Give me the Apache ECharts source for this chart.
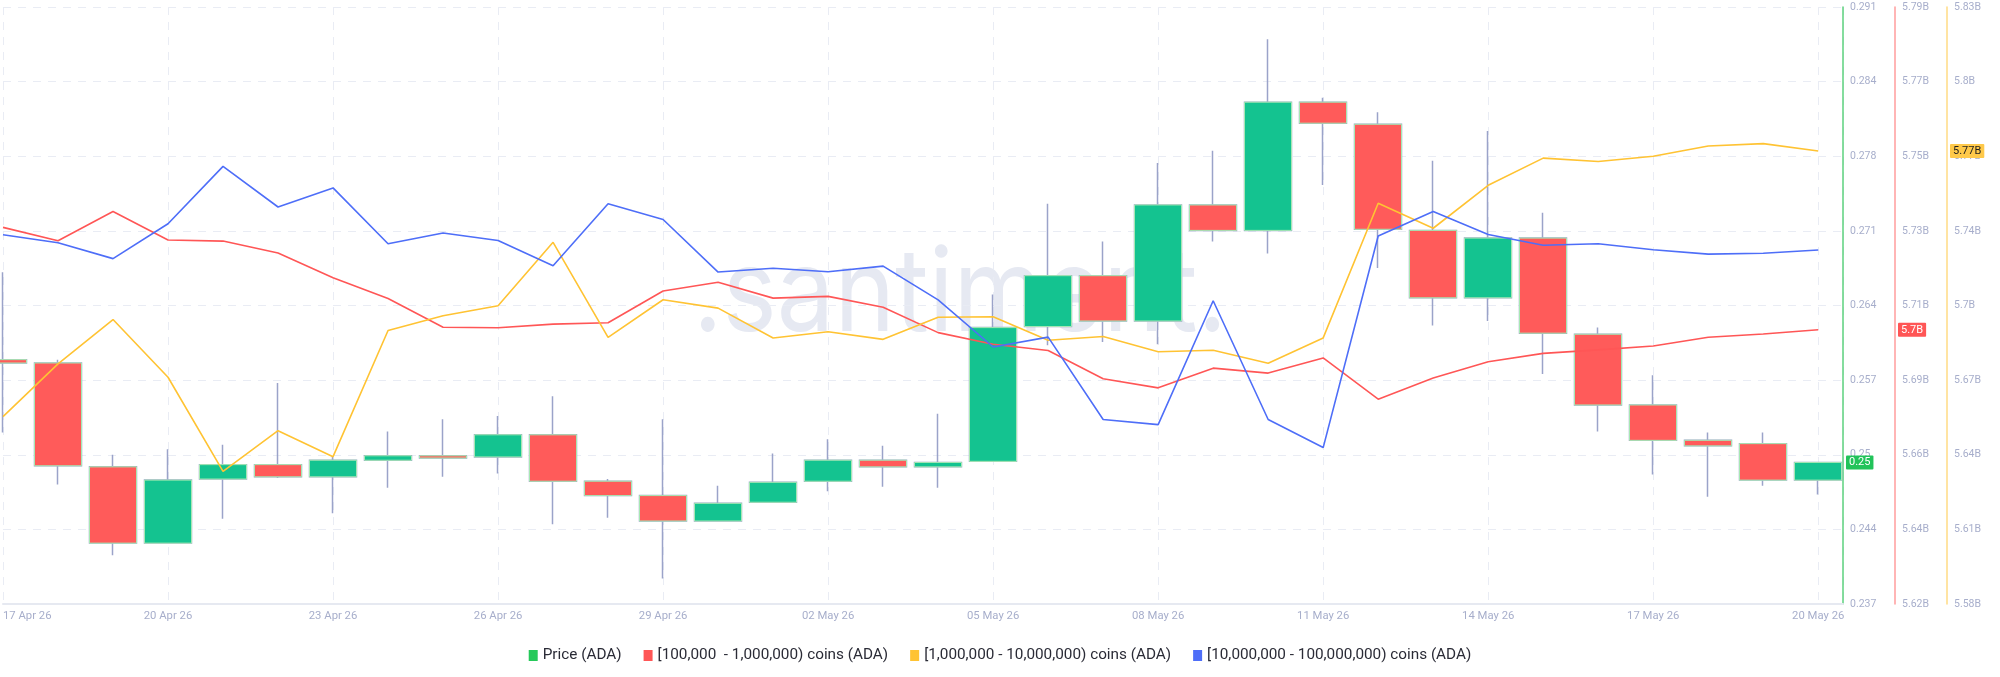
<!DOCTYPE html>
<html>
<head>
<meta charset="utf-8">
<script src="https://cdn.jsdelivr.net/npm/echarts@6/dist/echarts.min.js"></script>
<style>
  html, body { margin: 0; padding: 0; background: #fff; }
  #chart { width: 2000px; height: 677px; }
</style>
</head>
<body>
<div id="chart"></div>
<script>
// days on the x axis (one candle per day)
const dates = [
  '17 Apr 26','18 Apr 26','19 Apr 26','20 Apr 26','21 Apr 26','22 Apr 26','23 Apr 26',
  '24 Apr 26','25 Apr 26','26 Apr 26','27 Apr 26','28 Apr 26','29 Apr 26','30 Apr 26',
  '01 May 26','02 May 26','03 May 26','04 May 26','05 May 26','06 May 26','07 May 26',
  '08 May 26','09 May 26','10 May 26','11 May 26','12 May 26','13 May 26','14 May 26',
  '15 May 26','16 May 26','17 May 26','18 May 26','19 May 26','20 May 26'
]

// Price (ADA) candles
const priceOpen  = [0.2591,0.2588,0.2494,0.2425,0.2483,0.2496,0.2485,0.2500,0.2504,0.2503,0.2523,0.2481,0.2468,0.2445,0.2462,0.2481,0.2500,0.2494,0.2499,0.2621,0.2667,0.2626,0.2731,0.2708,0.2824,0.2804,0.2708,0.2647,0.2701,0.2614,0.2550,0.2518,0.2515,0.2482]
const priceClose = [0.2588,0.2495,0.2425,0.2482,0.2496,0.2485,0.2500,0.2504,0.2502,0.2523,0.2481,0.2468,0.2445,0.2461,0.2480,0.2500,0.2494,0.2498,0.2620,0.2667,0.2626,0.2731,0.2708,0.2824,0.2805,0.2709,0.2647,0.2701,0.2615,0.2550,0.2518,0.2513,0.2482,0.2498]
const priceLow   = [0.2525,0.2478,0.2414,0.2425,0.2447,0.2484,0.2452,0.2475,0.2485,0.2488,0.2442,0.2448,0.2393,0.2445,0.2462,0.2472,0.2476,0.2475,0.2499,0.2604,0.2607,0.2605,0.2698,0.2687,0.2749,0.2674,0.2622,0.2626,0.2578,0.2526,0.2487,0.2467,0.2477,0.2469]
const priceHigh  = [0.2670,0.2591,0.2505,0.2510,0.2514,0.2570,0.2503,0.2526,0.2537,0.2540,0.2558,0.2483,0.2537,0.2477,0.2506,0.2519,0.2513,0.2542,0.2650,0.2732,0.2698,0.2769,0.2780,0.2881,0.2828,0.2815,0.2771,0.2798,0.2724,0.2620,0.2577,0.2525,0.2525,0.2498]

// supply held by wallet groups, in billions of ADA
const holders100k = [5.7285,5.7247,5.7330,5.7249,5.7246,5.7212,5.7142,5.7083,5.7001,5.7000,5.7010,5.7014,5.7104,5.7129,5.7084,5.7089,5.7058,5.6986,5.6953,5.6935,5.6855,5.6829,5.6885,5.6871,5.6914,5.6797,5.6857,5.6903,5.6927,5.6937,5.6948,5.6973,5.6982,5.6994]
const holders1m   = [5.6576,5.6797,5.6983,5.6741,5.6346,5.6517,5.6408,5.6937,5.6999,5.7041,5.7307,5.6908,5.7066,5.7031,5.6906,5.6932,5.6900,5.6993,5.6995,5.6896,5.6912,5.6848,5.6854,5.6800,5.6906,5.7471,5.7366,5.7546,5.7660,5.7646,5.7668,5.7711,5.7721,5.7690]
const holders10m  = [7.6237,7.6210,7.6157,7.6274,7.6466,7.6330,7.6394,7.6207,7.6243,7.6218,7.6133,7.6341,7.6288,7.6112,7.6125,7.6113,7.6132,7.6019,7.5861,7.5894,7.5618,7.5601,7.6016,7.5618,7.5524,7.6233,7.6315,7.6238,7.6202,7.6207,7.6187,7.6172,7.6175,7.6186]

const names = [
  'Price (ADA)',
  '[100,000  - 1,000,000) coins (ADA)',
  '[1,000,000 - 10,000,000) coins (ADA)',
  '[10,000,000 - 100,000,000) coins (ADA)'
]

const labelColor = '#a7aecb'
const gridColor = '#e9ecf4'

function trim (v, d) {
  return String(parseFloat(v.toFixed(d)))
}

const candleData = dates.map((d, i) => [i, priceOpen[i], priceClose[i], priceLow[i], priceHigh[i]])
// bodies only, drawn on top so the body outline is green while wicks stay grey
const bodyData = dates.map((d, i) => [i, priceOpen[i], priceClose[i],
  Math.min(priceOpen[i], priceClose[i]), Math.max(priceOpen[i], priceClose[i])])

const last = a => a[a.length - 1]

const yBase = {
  type: 'value',
  position: 'right',
  axisTick: { show: false },
  splitLine: { show: false },
  axisLabel: { color: labelColor, fontFamily: 'Roboto', fontSize: 10.5, margin: 7 }
}

const options = {
  animation: false,
  backgroundColor: '#fff',
  legend: {
    top: 643,
    left: 'center',
    icon: 'rect',
    itemWidth: 9,
    itemHeight: 11,
    itemGap: 22,
    textStyle: { color: '#2a2b36', fontFamily: 'Roboto', fontSize: 15.3 },
    data: [
      { name: names[0], itemStyle: { color: '#26c95a', borderWidth: 0 } },
      { name: names[1] },
      { name: names[2] },
      { name: names[3] }
    ]
  },
  grid: { left: 0, right: 157, top: 7, bottom: 73, containLabel: false },
  xAxis: {
    type: 'value',
    min: 0,
    max: 33.45,
    interval: 3,
    axisLine: { onZero: false, lineStyle: { color: '#e6e9f1', width: 2 } },
    axisTick: { show: false },
    splitLine: { show: true, lineStyle: { color: gridColor, type: [8, 7] } },
    axisLabel: {
      color: labelColor,
      fontFamily: 'Roboto',
      fontSize: 11.3,
      margin: 7,
      alignMinLabel: 'left',
      formatter: v => (Number.isInteger(v) && dates[v]) ? dates[v] : ''
    }
  },
  yAxis: [
    Object.assign({}, yBase, {
      min: 0.23699,
      max: 0.23699 + 8 * 0.006753,
      interval: 0.006753,
      axisLine: { show: true, onZero: false, lineStyle: { color: '#5cd27e', width: 1.5 } },
      splitLine: { show: true, lineStyle: { color: gridColor, type: [8, 7] } },
      axisLabel: Object.assign({}, yBase.axisLabel, { formatter: v => trim(v, 3) })
    }),
    Object.assign({}, yBase, {
      offset: 52,
      min: 5.6215,
      max: 5.6215 + 8 * 0.0212,
      interval: 0.0212,
      axisLine: { show: true, onZero: false, lineStyle: { color: '#ff9d9d', width: 1.5 } },
      axisLabel: Object.assign({}, yBase.axisLabel, { formatter: v => trim(v, 2) + 'B' })
    }),
    Object.assign({}, yBase, {
      offset: 104,
      min: 5.579,
      max: 5.579 + 8 * 0.0313,
      interval: 0.0313,
      axisLine: { show: true, onZero: false, lineStyle: { color: '#ffdb85', width: 1.5 } },
      axisLabel: Object.assign({}, yBase.axisLabel, { formatter: v => trim(v, 2) + 'B' })
    }),
    { type: 'value', show: false, min: 7.50, max: 7.70 }
  ],
  series: [
    {
      name: names[0],
      type: 'candlestick',
      yAxisIndex: 0,
      barWidth: 48,
      encode: { x: 0, y: [1, 2, 3, 4] },
      itemStyle: {
        color: '#14c390', color0: '#ff5b5a',
        borderColor: '#9ba3c9', borderColor0: '#9ba3c9', borderWidth: 1.5
      },
      data: candleData
    },
    {
      name: names[0],
      type: 'candlestick',
      yAxisIndex: 0,
      barWidth: 48,
      encode: { x: 0, y: [1, 2, 3, 4] },
      itemStyle: {
        color: '#14c390', color0: '#ff5b5a',
        borderColor: '#a6e8b3', borderColor0: '#a6e8b3', borderWidth: 1
      },
      data: bodyData
    },
    {
      name: names[1],
      type: 'line',
      yAxisIndex: 1,
      symbol: 'none',
      color: '#ff5656',
      lineStyle: { width: 1.6 },
      data: holders100k.map((v, i) => [i, v])
    },
    {
      name: names[2],
      type: 'line',
      yAxisIndex: 2,
      symbol: 'none',
      color: '#ffc333',
      lineStyle: { width: 1.6 },
      data: holders1m.map((v, i) => [i, v])
    },
    {
      name: names[3],
      type: 'line',
      yAxisIndex: 3,
      symbol: 'none',
      color: '#4e6ef8',
      lineStyle: { width: 1.6 },
      data: holders10m.map((v, i) => [i, v])
    }
  ]
}

let ChartEl

// last-value tag sitting just right of an axis line
function tag (axisIndex, value, axisX, bg, fg, text) {
  const y = ChartEl.convertToPixel({ yAxisIndex: axisIndex }, value)
  return {
    type: 'text',
    x: axisX + 3,
    y: y,
    z: 100,
    silent: true,
    style: {
      text: text,
      fill: fg,
      backgroundColor: bg,
      padding: [2, 3, 1, 3],
      borderRadius: 1,
      font: '11px Roboto',
      verticalAlign: 'middle'
    }
  }
}

function init () {
  ChartEl = echarts.init(document.getElementById('chart'), null, { renderer: 'canvas' })
  ChartEl.setOption(options)
  const right = 2000 - 157
  ChartEl.setOption({
    graphic: [
      {
        // watermark, a bit condensed like the logo type
        type: 'text',
        x: 693,
        y: 238,
        scaleX: 0.885,
        z: -10,
        silent: true,
        style: { text: '.santiment.', font: '400 116px Inter', fill: '#e6e9f2', verticalAlign: 'top' }
      },
      tag(0, last(priceClose), right, '#22c35a', '#fff', trim(last(priceClose), 3)),
      tag(1, last(holders100k), right + 52, '#ff5656', '#fff', trim(last(holders100k), 2) + 'B'),
      tag(2, last(holders1m), right + 104, '#ffc94a', '#1e1e1e', trim(last(holders1m), 2) + 'B')
    ]
  })
}

init()
</script>
</body>
</html>
